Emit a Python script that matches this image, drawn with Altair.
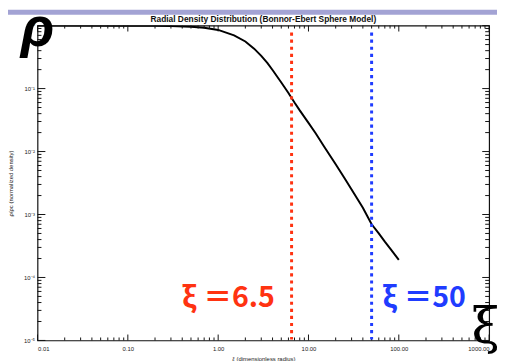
import altair as alt
import pandas as pd

# ---- data ----
xi = [0.01, 0.1, 0.2, 0.3, 0.5, 0.7, 1.0, 1.5, 2.0, 2.5, 3.0, 3.5, 4.0, 5.0, 6.0,
      6.5, 7.0, 8.0, 10.0, 12.0, 15.0, 20.0, 25.0, 30.0, 40.0, 50.0, 60.0, 70.0, 80.0, 100.0]
rho = [1.0, 0.9983, 0.9934, 0.985, 0.959, 0.922, 0.854, 0.70, 0.56, 0.43, 0.33, 0.255,
       0.197, 0.125, 0.085, 0.071, 0.060, 0.045, 0.0285, 0.0195, 0.0118, 0.0063, 0.0038,
       0.0025, 0.00128, 0.00070, 0.00050, 0.00037, 0.00029, 0.00019]

x_major = [0.01, 0.1, 1, 10, 100, 1000]
y_major = [1e-5, 1e-4, 1e-3, 1e-2, 1e-1, 1]
y_labels = ["10⁻⁵", "10⁻⁴", "10⁻³", "10⁻²", "10⁻¹", "10⁰"]
mantissas = [2, 3, 4, 5, 6, 7, 8, 9]
markers = [6.5, 50]
marker_labels = ["ξ ＝6.5", "ξ ＝50"]
title_text = "Radial Density Distribution (Bonnor-Ebert Sphere Model)"
x_title = "ξ (dimensionless radius)"
y_title = "ρ/ρc (normalized density)"

x_minor = [m * d for d in x_major[:-1] for m in mantissas]
y_minor = [m * d for d in y_major[:-1] for m in mantissas]

W, H = 459, 320
FONT = "Liberation Sans"
TICK = "#111"
xs = alt.Scale(type="log", domain=[0.01, 1000], nice=False)
ys = alt.Scale(type="log", domain=[1e-5, 1], nice=False)

pairs = sorted(zip(y_major, y_labels), reverse=True)
yexpr = ""
for v, lab in pairs[:-1]:
    yexpr += f"datum.value > {v / 3} ? '{lab}' : "
yexpr += f"'{pairs[-1][1]}'"

df = pd.DataFrame({"xi": xi, "rho": rho})
one = alt.Chart(pd.DataFrame({"k": [0]}))

# purple slide band at the top
band = one.mark_rect(color="#a3a3d4").encode(
    x=alt.value(-30), x2=alt.value(W + 10), y=alt.value(-16), y2=alt.value(-11))

title = one.mark_text(align="center", baseline="alphabetic", font=FONT, fontSize=8.5,
                      fontWeight="bold", color="#111").encode(
    x=alt.value(W / 2), y=alt.value(-4), text=alt.value(title_text))

curve = alt.Chart(df).mark_line(color="black", strokeWidth=2, clip=True).encode(
    x=alt.X("xi:Q", scale=xs, axis=alt.Axis(
        orient="bottom", values=x_major, format=".2f", ticks=False, tickSize=0,
        domain=False, grid=False, labelFont=FONT, labelFontSize=6, labelColor="#222",
        labelPadding=5, title=x_title, titleFont=FONT, titleFontSize=6,
        titleFontWeight="normal", titlePadding=4, titleColor="#222")),
    y=alt.Y("rho:Q", scale=ys, axis=alt.Axis(
        orient="left", values=y_major, labelExpr=yexpr, ticks=False, tickSize=0,
        domain=False, grid=False, labelFont=FONT, labelFontSize=6, labelColor="#222",
        labelPadding=3, title=y_title, titleFont=FONT, titleFontSize=6,
        titleFontWeight="normal", titlePadding=10, titleColor="#222")),
)


def xticks(vals, y0, y1):
    return alt.Chart(pd.DataFrame({"v": vals})).mark_rule(color=TICK, strokeWidth=1).encode(
        x=alt.X("v:Q", scale=xs, axis=None), y=alt.value(y0), y2=alt.value(y1))


def yticks(vals, x0, x1):
    return alt.Chart(pd.DataFrame({"v": vals})).mark_rule(color=TICK, strokeWidth=1).encode(
        y=alt.Y("v:Q", scale=ys, axis=None), x=alt.value(x0), x2=alt.value(x1))


ticks = [
    xticks(x_major, H, H - 6), xticks(x_minor, H, H - 3),
    xticks(x_major, 0, 6), xticks(x_minor, 0, 3),
    yticks(y_major, 0, 8), yticks(y_minor, 0, 4),
    yticks(y_major, W, W - 7), yticks(y_minor, W, W - 4),
]

mk = pd.DataFrame({"xi": markers, "label": marker_labels})
mcolors = alt.Scale(domain=markers, range=["#ff3311", "#1f3cff"])
rules = alt.Chart(mk).mark_rule(strokeWidth=3, strokeDash=[3.2, 4]).encode(
    x=alt.X("xi:Q", scale=xs, axis=None),
    y=alt.value(7), y2=alt.value(H - 1),
    color=alt.Color("xi:N", scale=mcolors, legend=None),
)

red_txt = alt.Chart(mk.iloc[[0]]).mark_text(
    align="right", baseline="alphabetic", font="Noto Sans CJK JP", fontSize=29,
    fontWeight="bold", dx=-17, color="#ff3311").encode(
    x=alt.X("xi:Q", scale=xs, axis=None), y=alt.value(286), text="label:N")
blue_txt = alt.Chart(mk.iloc[[1]]).mark_text(
    align="left", baseline="alphabetic", font="Noto Sans CJK JP", fontSize=29,
    fontWeight="bold", dx=11, color="#1f3cff").encode(
    x=alt.X("xi:Q", scale=xs, axis=None), y=alt.value(286), text="label:N")

rho_sym = one.mark_text(align="left", baseline="alphabetic", font=FONT, fontSize=56,
                        fontWeight="bold", fontStyle="italic", color="black").encode(
    x=alt.value(-17), y=alt.value(21), text=alt.value("ρ"))
xi_sym = one.mark_text(align="left", baseline="alphabetic", font="DejaVu Serif",
                       fontSize=52, color="black").encode(
    x=alt.value(441), y=alt.value(323), text=alt.value("ξ"))

chart = alt.layer(band, title, curve, *ticks, rules, red_txt, blue_txt, rho_sym, xi_sym).resolve_axis(
    x="independent", y="independent"
).properties(
    width=W, height=H,
    autosize=alt.AutoSizeParams(type="none"),
    padding={"left": 30, "top": 15, "right": 8, "bottom": 18},
    background="white",
).configure_view(stroke="#111", strokeWidth=1.2)

chart.save("out.html", embed_options={"renderer": "svg", "actions": False})
